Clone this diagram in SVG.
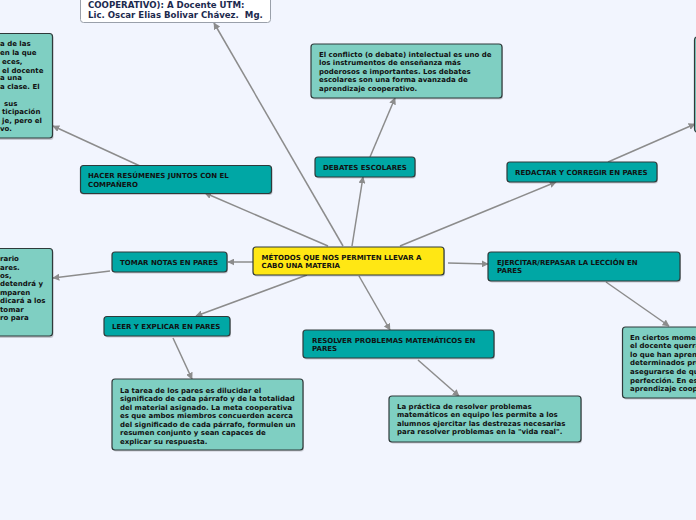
<svg xmlns="http://www.w3.org/2000/svg" width="696" height="520" viewBox="0 0 696 520">
<defs>
<marker id="ah" viewBox="0 0 10 10" refX="9" refY="5" markerWidth="7" markerHeight="7" markerUnits="userSpaceOnUse" orient="auto"><path d="M0,0 L10,5 L0,10 z" fill="#8c8c8c"/></marker>
<style>
.c{stroke:#8c8c8c;stroke-width:1.5;fill:none;marker-end:url(#ah)}
.t{fill:#00a7a5;stroke:#2f3a3a;stroke-width:1.2}
.n{fill:#7fcfc2;stroke:#2f3a3a;stroke-width:1.2}
.y{fill:#ffe714;stroke:#2f3a3a;stroke-width:1.2}
.w{fill:#ffffff;stroke:#9aa0aa;stroke-width:1}
.sh{fill:#000;opacity:.18}
text{font-family:"DejaVu Sans","Liberation Sans",sans-serif;font-weight:bold;font-size:7px;fill:#111}
.tt{font-size:8.6px;fill:#1c2a4e}
</style>
</defs>
<rect width="696" height="520" fill="#f2f5fe"/>
<g id="connectors">
<line class="c" x1="343" y1="246" x2="214" y2="23"/>
<line class="c" x1="352" y1="246" x2="363" y2="177"/>
<line class="c" x1="370" y1="157" x2="395" y2="98"/>
<line class="c" x1="400" y1="246" x2="556" y2="182"/>
<line class="c" x1="608" y1="162" x2="695" y2="124"/>
<line class="c" x1="328" y1="246" x2="205" y2="193"/>
<line class="c" x1="140" y1="166" x2="53" y2="126"/>
<line class="c" x1="253" y1="262" x2="228" y2="262"/>
<line class="c" x1="110" y1="271" x2="53" y2="278"/>
<line class="c" x1="307" y1="275" x2="196" y2="316"/>
<line class="c" x1="173" y1="338" x2="192" y2="379"/>
<line class="c" x1="359" y1="276" x2="390" y2="330"/>
<line class="c" x1="418" y1="360" x2="459" y2="396"/>
<line class="c" x1="448" y1="263" x2="488" y2="264"/>
<line class="c" x1="606" y1="282" x2="669" y2="326"/>
</g>
<g id="top-node">
<rect class="w" x="80.5" y="-20" width="190" height="42.5" rx="3"/>
<text class="tt" x="88" y="8">COOPERATIVO): A Docente UTM:</text>
<text class="tt" x="88" y="17.5" xml:space="preserve">Lic. Oscar Elias Bolivar Chávez.  Mg.</text>
</g>
<g id="note-left-top">
<rect class="sh" x="-10" y="35" width="63.5" height="105" rx="3"/>
<rect class="n" x="-10" y="33.5" width="62.5" height="104.5" rx="3"/>
<text x="0" y="46">a de las</text>
<text x="0" y="55.2">en la que</text>
<text x="2" y="63.5">eces,</text>
<text x="2" y="72.5">el docente</text>
<text x="0" y="79.8">a una</text>
<text x="0" y="89.2">a clase. El</text>
<text x="4" y="105.8">sus</text>
<text x="2" y="113.5">ticipación</text>
<text x="2" y="122.5">je, pero el</text>
<text x="0" y="130.5">vo.</text>
</g>
<g id="note-left-mid">
<rect class="sh" x="-10" y="250" width="63.5" height="88" rx="3"/>
<rect class="n" x="-10" y="248.5" width="62.5" height="87.5" rx="3"/>
<text x="0" y="260.5">rario</text>
<text x="0" y="269.5">ares.</text>
<text x="0" y="277.5">os,</text>
<text x="0" y="286.2">detendrá y</text>
<text x="0" y="294.5">mparen</text>
<text x="0" y="302.8">dicará a los</text>
<text x="0" y="311.5">tomar</text>
<text x="0" y="319.8">ro para</text>
</g>
<g id="note-right-top">
<rect class="sh" x="695" y="38.5" width="20" height="95" rx="3"/>
<rect class="n" x="694.5" y="37" width="20" height="95" rx="3"/>
</g>
<g id="note-right-bottom">
<rect class="sh" x="623.5" y="328.5" width="90" height="71" rx="3"/>
<rect class="n" x="622.5" y="327" width="90" height="71" rx="3"/>
<text x="630" y="339.5">En ciertos mome</text>
<text x="630" y="348.2">el docente querra</text>
<text x="630" y="356.5">lo que han apren</text>
<text x="630" y="365.2">determinados pro</text>
<text x="630" y="373.5">asegurarse de qu</text>
<text x="630" y="382.5">perfección. En es</text>
<text x="630" y="390.5">aprendizaje coop</text>
</g>
<g id="central">
<rect class="sh" x="254" y="248.5" width="191" height="28" rx="3"/>
<rect class="y" x="253" y="247" width="191" height="28" rx="3"/>
<text x="261.5" y="259.8">MÉTODOS QUE NOS PERMITEN LLEVAR A</text>
<text x="261.5" y="267.8">CABO UNA MATERIA</text>
</g>
<g id="debates">
<rect class="sh" x="316" y="158.5" width="100" height="20" rx="3"/>
<rect class="t" x="315" y="157" width="100" height="20" rx="3"/>
<text x="323" y="169.8">DEBATES ESCOLARES</text>
</g>
<g id="debates-note">
<rect class="sh" x="312" y="45.5" width="191" height="54" rx="3"/>
<rect class="n" x="311" y="44" width="191" height="54" rx="3"/>
<text x="319" y="56.8">El conflicto (o debate) intelectual es uno de</text>
<text x="319" y="65.2">los instrumentos de enseñanza más</text>
<text x="319" y="73.5">poderosos e importantes. Los debates</text>
<text x="319" y="81.8">escolares son una forma avanzada de</text>
<text x="319" y="90.5">aprendizaje cooperativo.</text>
</g>
<g id="redactar">
<rect class="sh" x="508" y="163.5" width="150" height="20" rx="3"/>
<rect class="t" x="507" y="162" width="150" height="20" rx="3"/>
<text x="515" y="174.5">REDACTAR Y CORREGIR EN PARES</text>
</g>
<g id="hacer">
<rect class="sh" x="81.5" y="167" width="191" height="28" rx="3"/>
<rect class="t" x="80.5" y="165.5" width="191" height="28" rx="3"/>
<text x="88" y="178.2">HACER RESÚMENES JUNTOS CON EL</text>
<text x="88" y="186.5">COMPAÑERO</text>
</g>
<g id="tomar">
<rect class="sh" x="113" y="253.5" width="115" height="20" rx="3"/>
<rect class="t" x="112" y="252" width="115" height="20" rx="3"/>
<text x="120" y="264.5">TOMAR NOTAS EN PARES</text>
</g>
<g id="leer">
<rect class="sh" x="105" y="318" width="126" height="19.5" rx="3"/>
<rect class="t" x="104" y="316.5" width="126" height="19.5" rx="3"/>
<text x="112" y="328.5">LEER Y EXPLICAR EN PARES</text>
</g>
<g id="leer-note">
<rect class="sh" x="113" y="380.5" width="191" height="71" rx="3"/>
<rect class="n" x="112" y="379" width="191" height="71" rx="3"/>
<text x="120" y="392.5">La tarea de los pares es dilucidar el</text>
<text x="120" y="401.2">significado de cada párrafo y de la totalidad</text>
<text x="120" y="409.5">del material asignado. La meta cooperativa</text>
<text x="120" y="418.2">es que ambos miembros concuerden acerca</text>
<text x="120" y="426.5">del significado de cada párrafo, formulen un</text>
<text x="120" y="435.2">resumen conjunto y sean capaces de</text>
<text x="120" y="443.5">explicar su respuesta.</text>
</g>
<g id="resolver">
<rect class="sh" x="304" y="331.5" width="191" height="28" rx="3"/>
<rect class="t" x="303" y="330" width="191" height="28" rx="3"/>
<text x="312" y="343.2">RESOLVER PROBLEMAS MATEMÁTICOS EN</text>
<text x="312" y="351.2">PARES</text>
</g>
<g id="resolver-note">
<rect class="sh" x="390" y="397.5" width="192" height="46" rx="3"/>
<rect class="n" x="389" y="396" width="192" height="46" rx="3"/>
<text x="397" y="408.5">La práctica de resolver problemas</text>
<text x="397" y="417.2">matemáticos en equipo les permite a los</text>
<text x="397" y="425.5">alumnos ejercitar las destrezas necesarias</text>
<text x="397" y="434.2">para resolver problemas en la "vida real".</text>
</g>
<g id="ejercitar">
<rect class="sh" x="489" y="253.5" width="192" height="29" rx="3"/>
<rect class="t" x="488" y="252" width="192" height="29" rx="3"/>
<text x="497" y="265.2">EJERCITAR/REPASAR LA LECCIÓN EN</text>
<text x="497" y="273.2">PARES</text>
</g>
</svg>
